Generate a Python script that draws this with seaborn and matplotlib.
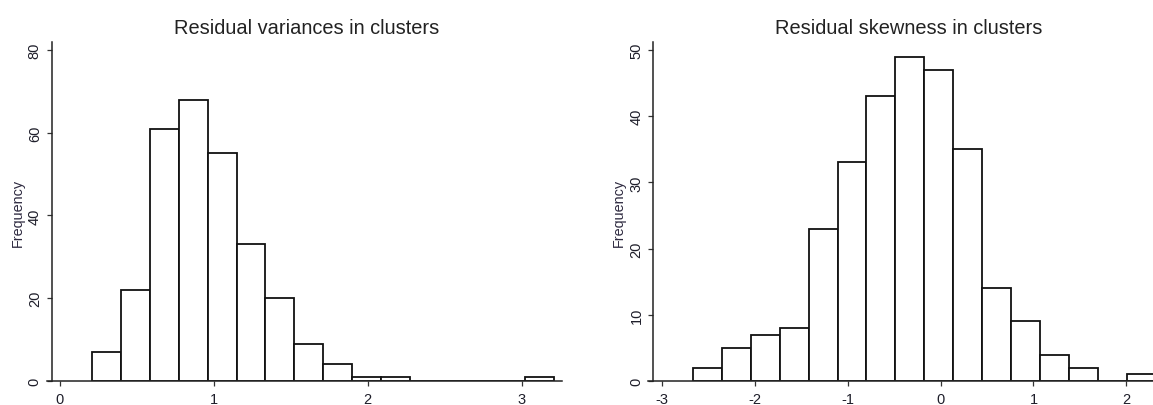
import numpy as np
import pandas as pd
import matplotlib
matplotlib.use("Agg")
import matplotlib.pyplot as plt
import seaborn as sns

# ---- data ----
var_counts = [7, 22, 61, 68, 55, 33, 20, 9, 4, 1, 1, 0, 0, 0, 0, 1]
var_bin_start = 0.21
var_bin_width = 0.1875

skew_counts = [2, 5, 7, 8, 23, 33, 43, 49, 47, 35, 14, 9, 4, 2, 0, 1]
skew_bin_start = -2.672
skew_bin_width = 0.312

var_xticks = [0, 1, 2, 3]
var_yticks = [0, 20, 40, 60, 80]
skew_xticks = [-3, -2, -1, 0, 1, 2]
skew_yticks = [0, 10, 20, 30, 40, 50]

var_title = "Residual variances in clusters"
skew_title = "Residual skewness in clusters"
y_label = "Frequency"

sns.set_style("ticks")
plt.rcParams["font.family"] = ["Liberation Sans", "DejaVu Sans"]

W, H = 1153, 406
fig = plt.figure(figsize=(W / 100, H / 100), dpi=100)


def px_axes(l, r, t, b):
    return fig.add_axes([l / W, 1 - b / H, (r - l) / W, (b - t) / H])


def make_df(counts, start, width):
    n = len(counts)
    edges = [float(start + width * i) for i in range(n + 1)]
    centers = [e + width / 2 for e in edges[:-1]]
    return pd.DataFrame({"x": centers, "w": counts}), edges


def draw(ax, counts, start, width, xlim, ylim, spine_x, xticks, yticks, title, title_x, label_x):
    df, edges = make_df(counts, start, width)
    sns.histplot(data=df, x="x", weights="w", bins=edges, ax=ax, stat="count",
                 color="white", edgecolor="#111111", linewidth=1.3, alpha=1.0, fill=True)
    ax.set_xlim(*xlim)
    ax.set_ylim(*ylim)
    ax.spines["top"].set_visible(False)
    ax.spines["right"].set_visible(False)
    ax.spines["left"].set_position(("data", spine_x))
    for s in ("left", "bottom"):
        ax.spines[s].set_color("#222222")
        ax.spines[s].set_linewidth(1.1)
    ax.set_xticks(xticks, [str(t) for t in xticks])
    ax.set_yticks(yticks, [str(t) for t in yticks], rotation=90, va="center")
    ax.tick_params(axis="both", direction="out", length=3.6, width=0.9,
                   color="#333333", labelcolor="#1e1e2a", labelsize=10.5)
    ax.tick_params(axis="x", pad=4.5)
    ax.tick_params(axis="y", pad=3.5)
    ax.set_xlabel("")
    ax.set_ylabel(y_label, fontsize=10.4, color="#2e2a40", va="center")
    ax.yaxis.set_label_coords(label_x, 0.5)
    ax.set_title(title, fontsize=14.4, pad=6.5, x=title_x, color="#222222")


ax1 = px_axes(46.7, 561.7, 43.3, 382)
draw(ax1, var_counts, var_bin_start, var_bin_width,
     (-0.0864, 3.260), (0, 81.86), -0.0539,
     var_xticks, var_yticks, var_title, 0.505, -0.0557)

ax2 = px_axes(648.3, 1163.3, 43.3, 382)
draw(ax2, skew_counts, skew_bin_start, skew_bin_width,
     (-3.151, 2.399), (0, 51.15), -3.097,
     skew_xticks, skew_yticks, skew_title, 0.506, -0.0569)

fig.savefig("out.png", dpi=100)
